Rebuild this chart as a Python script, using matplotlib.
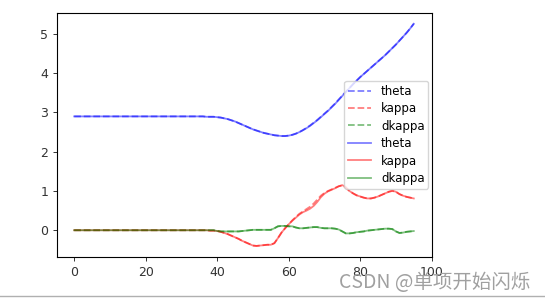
import matplotlib
matplotlib.use("Agg")
import matplotlib.pyplot as plt
from matplotlib.lines import Line2D

s = list(range(96))

theta = [2.90] * 37 + [2.89, 2.89, 2.89,
         2.88, 2.87, 2.85, 2.83, 2.80, 2.77, 2.73, 2.69, 2.65, 2.61,
         2.57, 2.54, 2.51, 2.48, 2.46, 2.44, 2.42, 2.41, 2.40, 2.40,
         2.41, 2.43, 2.46, 2.50, 2.55, 2.60, 2.66, 2.73, 2.80, 2.88,
         2.96, 3.04, 3.13, 3.22, 3.32, 3.42, 3.52, 3.62, 3.72, 3.81,
         3.90, 3.98, 4.06, 4.14, 4.22, 4.30, 4.38, 4.46, 4.55, 4.64,
         4.73, 4.83, 4.93, 5.03, 5.14, 5.26]

theta_ref = [2.90] * 37 + [2.89, 2.89, 2.89,
             2.88, 2.87, 2.85, 2.83, 2.80, 2.77, 2.73, 2.69, 2.65, 2.61,
             2.57, 2.54, 2.51, 2.48, 2.46, 2.44, 2.42, 2.41, 2.40, 2.40,
             2.41, 2.43, 2.46, 2.50, 2.55, 2.61, 2.67, 2.74, 2.81, 2.89,
             2.97, 3.05, 3.14, 3.23, 3.33, 3.43, 3.53, 3.62, 3.72, 3.81,
             3.90, 3.98, 4.06, 4.14, 4.22, 4.30, 4.38, 4.46, 4.55, 4.64,
             4.73, 4.83, 4.93, 5.03, 5.14, 5.26]

kappa = [0.00] * 38 + [-0.01, -0.01,
         -0.02, -0.04, -0.07, -0.10, -0.14, -0.18, -0.22, -0.27, -0.31, -0.35,
         -0.39, -0.40, -0.39, -0.38, -0.37, -0.37, -0.33, -0.20, -0.06, 0.05,
         0.15, 0.24, 0.32, 0.40, 0.46, 0.50, 0.55, 0.62, 0.72, 0.84,
         0.93, 0.99, 1.03, 1.07, 1.12, 1.15, 1.10, 1.00, 0.94, 0.89,
         0.86, 0.83, 0.81, 0.81, 0.83, 0.86, 0.90, 0.94, 0.98, 1.01,
         0.98, 0.92, 0.88, 0.85, 0.83, 0.81]

kappa_ref = [0.00] * 38 + [-0.01, -0.01,
             -0.02, -0.04, -0.07, -0.10, -0.14, -0.18, -0.22, -0.27, -0.31, -0.35,
             -0.39, -0.40, -0.39, -0.38, -0.37, -0.37, -0.33, -0.20, -0.06, 0.05,
             0.15, 0.25, 0.34, 0.42, 0.48, 0.54, 0.60, 0.68, 0.78, 0.88,
             0.95, 1.00, 1.04, 1.08, 1.12, 1.14, 1.08, 1.00, 0.94, 0.89,
             0.86, 0.83, 0.81, 0.81, 0.83, 0.86, 0.90, 0.94, 0.98, 1.00,
             0.98, 0.92, 0.88, 0.85, 0.83, 0.81]

dkappa = [0.00] * 40 + [
          -0.02, -0.03, -0.03, -0.03, -0.03, -0.03, -0.03, -0.02, -0.01, 0.00,
          0.01, 0.01, 0.01, 0.01, 0.01, 0.01, 0.05, 0.10, 0.11, 0.11,
          0.10, 0.10, 0.07, 0.05, 0.05, 0.06, 0.07, 0.08, 0.08, 0.06,
          0.05, 0.05, 0.05, 0.04, 0.02, -0.03, -0.08, -0.08, -0.07, -0.05,
          -0.04, -0.03, -0.01, 0.00, 0.01, 0.02, 0.03, 0.04, 0.04, 0.03,
          -0.03, -0.07, -0.06, -0.04, -0.03, -0.02]

dkappa_ref = list(dkappa)

fig = plt.figure(figsize=(5.45, 3.01), dpi=100)
ax = fig.add_axes([0.105, 0.146, 0.687, 0.812])

fs = 9
ax.plot(s, theta_ref, 'b--', alpha=0.5, lw=1.3, label='theta')
ax.plot(s, kappa_ref, 'r--', alpha=0.5, lw=1.3, label='kappa')
ax.plot(s, dkappa_ref, 'g--', alpha=0.5, lw=1.3, label='dkappa')
ax.plot(s, theta, 'b-', alpha=0.5, lw=1.3, label='theta')
ax.plot(s, kappa, 'r-', alpha=0.5, lw=1.3, label='kappa')
ax.plot(s, dkappa, 'g-', alpha=0.5, lw=1.3, label='dkappa')

ax.set_xticks([0, 20, 40, 60, 80, 100])
ax.set_yticks([0, 1, 2, 3, 4, 5])
ax.tick_params(labelsize=fs, length=3, width=0.7, colors='#333333')
for sp in ax.spines.values():
    sp.set_linewidth(0.8)

ax.legend(loc='center right', fontsize=8.5, handlelength=2.0,
          borderpad=0.3, labelspacing=0.38, handletextpad=0.8,
          borderaxespad=0.3)

fig.text(0.973, 0.06, 'CSDN @单项开始闪烁', ha='right', va='center',
         fontsize=14, color='#a0a0a0',
         family=['Noto Sans CJK SC', 'DejaVu Sans'])
fig.add_artist(Line2D([0, 1], [0.017, 0.017], transform=fig.transFigure,
                      color='#b0b0b0', lw=1.0))

fig.savefig('out.png', dpi=100)
